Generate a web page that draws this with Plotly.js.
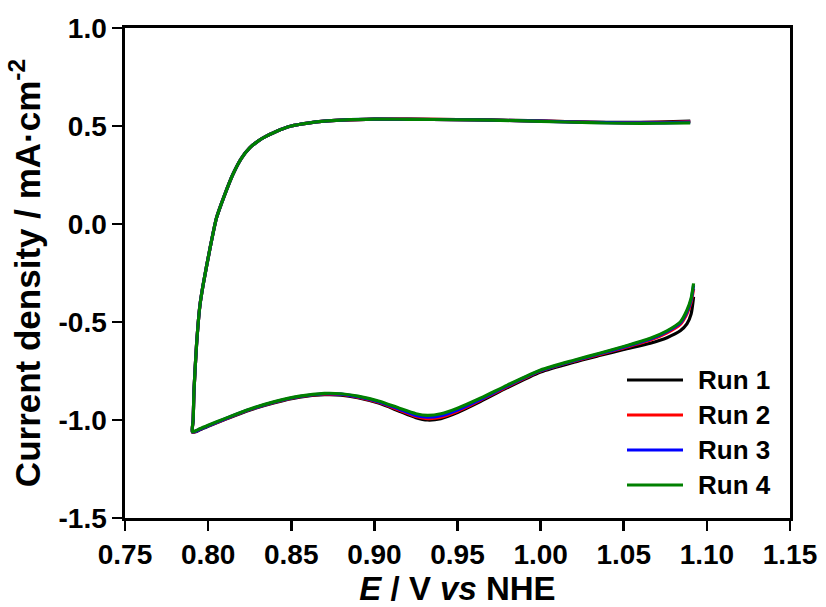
<!DOCTYPE html>
<html>
<head>
<meta charset="utf-8">
<script src="https://cdn.plot.ly/plotly-3.0.1.min.js"></script>
<style>
  html, body { margin: 0; padding: 0; background: #ffffff; }
  #chart { width: 826px; height: 607px; }
</style>
</head>
<body>
<div id="chart"></div>
<script>
// Cyclic voltammogram: anodic branch scanned down from 1.09 V, then the cathodic branch back up.
const potential = [
  1.090, 1.070, 1.050, 1.030, 1.000, 0.970, 0.950, 0.920, 0.900, 0.880,
  0.870, 0.860, 0.850, 0.845, 0.840, 0.835, 0.830, 0.825, 0.820, 0.815,
  0.810, 0.805, 0.801, 0.797, 0.795, 0.793, 0.7915, 0.791, 0.7905,
  0.7925, 0.795, 0.800, 0.810, 0.823, 0.840, 0.855, 0.870, 0.880, 0.890,
  0.903, 0.915, 0.925, 0.932, 0.940, 0.950, 0.964, 0.980, 1.000, 1.020,
  1.036, 1.050, 1.066, 1.076, 1.084, 1.088, 1.0905, 1.092
];

const currentRun1 = [
  0.525, 0.520, 0.518, 0.520, 0.526, 0.531, 0.533, 0.535, 0.535, 0.530,
  0.525, 0.515, 0.500, 0.486, 0.468, 0.448, 0.423, 0.388, 0.335, 0.255,
  0.150, 0.030, -0.130, -0.310, -0.420, -0.620, -0.850, -1.000, -1.062,
  -1.060, -1.050, -1.032, -0.998, -0.955, -0.912, -0.884, -0.871, -0.873, -0.886,
  -0.915, -0.955, -0.988, -1.000, -0.993, -0.962, -0.905, -0.835, -0.755, -0.705,
  -0.670, -0.640, -0.608, -0.580, -0.545, -0.510, -0.460, -0.371
];

const currentRun2 = [
  0.523, 0.518, 0.517, 0.519, 0.525, 0.530, 0.533, 0.535, 0.535, 0.530,
  0.525, 0.515, 0.500, 0.486, 0.468, 0.448, 0.423, 0.388, 0.335, 0.255,
  0.150, 0.030, -0.130, -0.310, -0.420, -0.620, -0.850, -1.000, -1.061,
  -1.058, -1.048, -1.030, -0.996, -0.953, -0.909, -0.881, -0.868, -0.870, -0.883,
  -0.911, -0.950, -0.982, -0.993, -0.986, -0.955, -0.898, -0.829, -0.750, -0.700,
  -0.664, -0.632, -0.592, -0.555, -0.512, -0.458, -0.400, -0.330
];

const currentRun3 = [
  0.520, 0.516, 0.516, 0.518, 0.525, 0.530, 0.532, 0.534, 0.535, 0.530,
  0.525, 0.515, 0.500, 0.486, 0.468, 0.448, 0.423, 0.388, 0.335, 0.255,
  0.150, 0.030, -0.130, -0.310, -0.420, -0.620, -0.850, -1.000, -1.060,
  -1.057, -1.047, -1.029, -0.995, -0.952, -0.908, -0.880, -0.866, -0.868, -0.881,
  -0.908, -0.945, -0.977, -0.986, -0.978, -0.949, -0.894, -0.826, -0.748, -0.698,
  -0.661, -0.628, -0.587, -0.549, -0.505, -0.448, -0.388, -0.312
];

const currentRun4 = [
  0.516, 0.514, 0.514, 0.517, 0.524, 0.530, 0.532, 0.534, 0.535, 0.530,
  0.525, 0.515, 0.500, 0.486, 0.468, 0.448, 0.423, 0.388, 0.335, 0.255,
  0.150, 0.030, -0.130, -0.310, -0.420, -0.620, -0.850, -1.000, -1.059,
  -1.055, -1.045, -1.027, -0.993, -0.950, -0.906, -0.878, -0.864, -0.866, -0.878,
  -0.904, -0.940, -0.968, -0.976, -0.968, -0.940, -0.888, -0.822, -0.745, -0.695,
  -0.658, -0.625, -0.583, -0.545, -0.500, -0.440, -0.380, -0.303
];

const runNames = ['Run 1', 'Run 2', 'Run 3', 'Run 4'];
const runColors = ['#000000', '#ff0000', '#0000ff', '#008000'];
const runCurrents = [currentRun1, currentRun2, currentRun3, currentRun4];

const xTickVals = [0.75, 0.80, 0.85, 0.90, 0.95, 1.00, 1.05, 1.10, 1.15];
const xTickText = ['0.75', '0.80', '0.85', '0.90', '0.95', '1.00', '1.05', '1.10', '1.15'];
const yTickVals = [-1.5, -1.0, -0.5, 0.0, 0.5, 1.0];
const yTickText = ['-1.5', '-1.0', '-0.5', '0.0', '0.5', '1.0'];

const FONT = 'Arial, "Liberation Sans", sans-serif';

const traces = runCurrents.map((ys, i) => ({
  type: 'scatter',
  mode: 'lines',
  x: potential,
  y: ys,
  name: runNames[i],
  line: { color: runColors[i], width: 3.2, shape: 'spline', smoothing: 0.6 },
  showlegend: false,
  hoverinfo: 'skip'
}));

// Plot-area size in pixels, used to place the hand-drawn legend.
const M = { l: 125, r: 36, t: 28, b: 89 };
const PW = 826 - M.l - M.r;
const PH = 607 - M.t - M.b;
const px = v => (v - M.l) / PW;
const py = v => (607 - M.b - v) / PH;

const shapes = [];
const annotations = [];
runNames.forEach((name, i) => {
  const yy = py(380 + 35 * i);
  shapes.push({
    type: 'line', xref: 'paper', yref: 'paper',
    x0: px(627), x1: px(683), y0: yy, y1: yy,
    line: { color: runColors[i], width: 3.2 }
  });
  annotations.push({
    xref: 'paper', yref: 'paper', x: px(696), y: yy,
    xanchor: 'left', yanchor: 'middle', showarrow: false,
    text: name,
    font: { family: FONT, size: 26, color: '#000000', weight: 'bold' }
  });
});

const axisCommon = {
  showgrid: false,
  zeroline: false,
  showline: true,
  mirror: true,
  linecolor: '#000000',
  linewidth: 2.6,
  ticks: 'outside',
  ticklen: 10,
  tickwidth: 2.6,
  tickcolor: '#000000',
  tickmode: 'array',
  tickfont: { family: FONT, size: 28, color: '#000000', weight: 'bold' }
};

const layout = {
  width: 826,
  height: 607,
  margin: M,
  paper_bgcolor: '#ffffff',
  plot_bgcolor: '#ffffff',
  showlegend: false,
  xaxis: Object.assign({}, axisCommon, {
    range: [0.75, 1.15],
    tickvals: xTickVals,
    ticktext: xTickText,
    title: {
      text: '<i>E</i> / V <i>vs</i> NHE',
      font: { family: FONT, size: 33, color: '#000000', weight: 'bold' },
      standoff: 14
    }
  }),
  yaxis: Object.assign({}, axisCommon, {
    range: [-1.5, 1.0],
    tickvals: yTickVals,
    ticktext: yTickText,
    title: {
      text: 'Current density / mA·cm<sup>-2</sup>',
      font: { family: FONT, size: 35, color: '#000000', weight: 'bold' },
      standoff: 8
    }
  }),
  shapes: shapes,
  annotations: annotations
};

Plotly.newPlot('chart', traces, layout, { displayModeBar: false, staticPlot: true });
</script>
</body>
</html>
